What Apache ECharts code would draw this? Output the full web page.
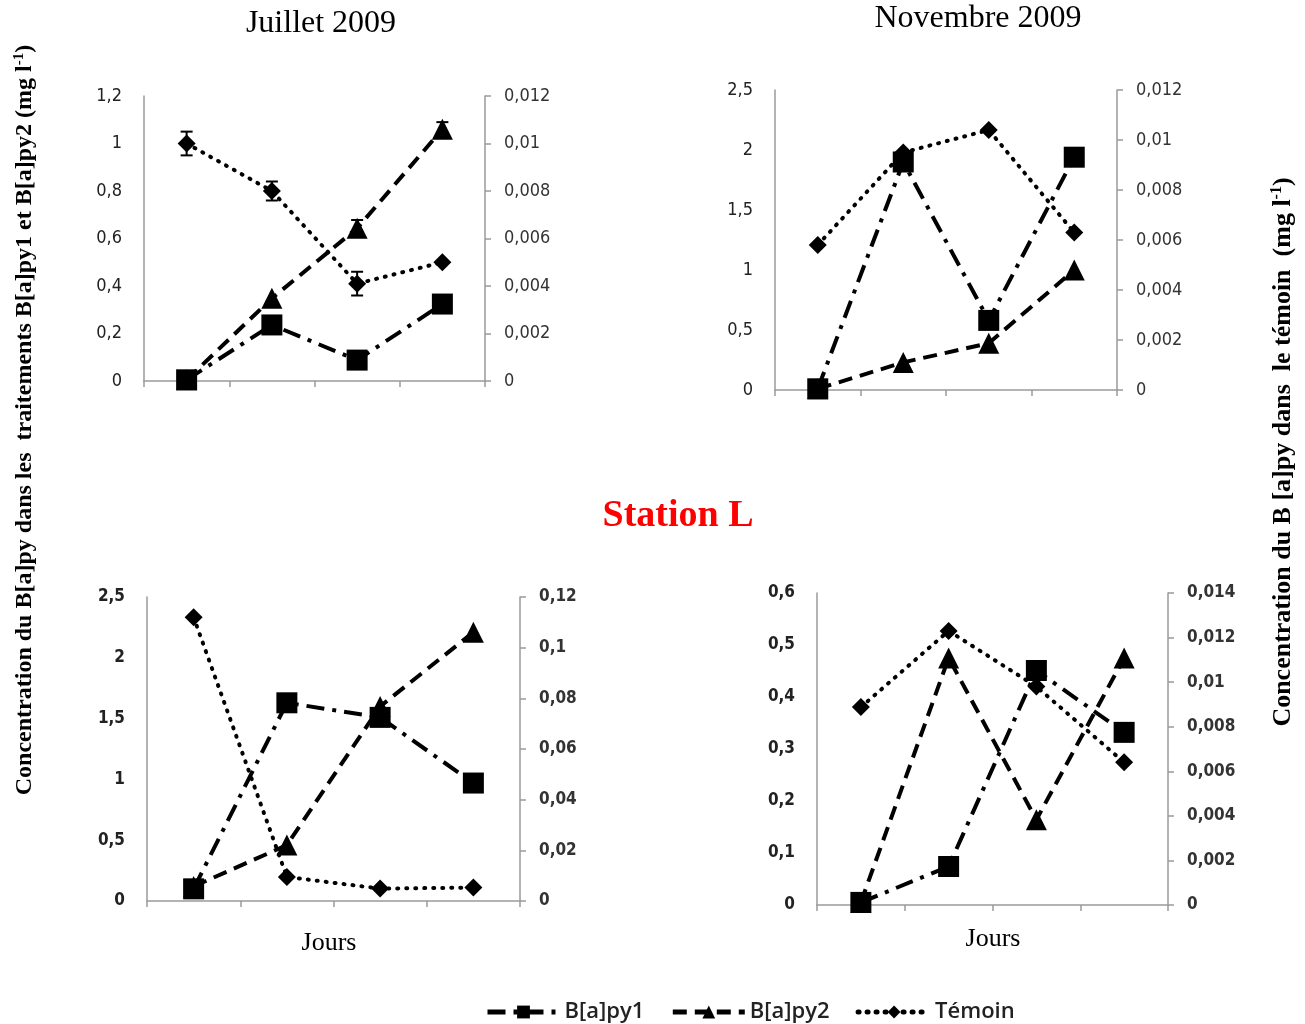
<!DOCTYPE html>
<html>
<head>
<meta charset="utf-8">
<script src="https://cdn.jsdelivr.net/npm/echarts@6/dist/echarts.min.js"></script>
<style>html,body{margin:0;padding:0;background:#fff}#c{width:1305px;height:1024px}</style>
</head>
<body>
<div id="c"></div>
<script>
// ---------- data ----------
var categories = ['1', '2', '3', '4'];

// Juillet 2009 (top left)
var julBapy1 = [0.005, 0.236, 0.088, 0.324];
var julBapy2 = [0.005, 0.348, 0.643, 1.06];
var julTemoin = [0.0100, 0.0080, 0.0041, 0.0050];
var julTemoinErr = [0.0005, 0.0004, 0.0005, 0];
var julBapy2Err = [0, 0, 0.035, 0.03];

// Novembre 2009 (top right)
var novBapy1 = [0.01, 1.90, 0.58, 1.94];
var novBapy2 = [0.01, 0.23, 0.39, 1.00];
var novTemoin = [0.0058, 0.0095, 0.0104, 0.0063];

// Station L, bottom left
var blBapy1 = [0.10, 1.63, 1.51, 0.97];
var blBapy2 = [0.12, 0.46, 1.60, 2.21];
var blTemoin = [0.112, 0.0095, 0.0049, 0.0053];

// Station L, bottom right
var brBapy1 = [0.005, 0.074, 0.451, 0.332];
var brBapy2 = [0.005, 0.475, 0.164, 0.475];
var brTemoin = [0.00888, 0.0123, 0.0098, 0.0064];

// axis scales [max, interval]
var leftScales = [[1.2, 0.2], [2.5, 0.5], [2.5, 0.5], [0.6, 0.1]];
var rightScales = [[0.012, 0.002], [0.012, 0.002], [0.12, 0.02], [0.014, 0.002]];

var seriesNames = ['B[a]py1', 'B[a]py2', 'Témoin'];
var titles = ['Juillet 2009', 'Novembre 2009', 'Station L', 'Jours'];

// ---------- layout ----------
var grids = [
  {left: 144, top: 96, width: 341, height: 285},
  {left: 775, top: 90, width: 342, height: 300},
  {left: 147, top: 597, width: 373, height: 304},
  {left: 817, top: 593, width: 351, height: 312}
];
var panels = [
  [julBapy1, julBapy2, julTemoin],
  [novBapy1, novBapy2, novTemoin],
  [blBapy1, blBapy2, blTemoin],
  [brBapy1, brBapy2, brTemoin]
];

function fmt(v) { return String(Number(v.toFixed(4))).replace('.', ','); }

var labelFont = '"DejaVu Sans Condensed", "Liberation Sans", sans-serif';
var xAxes = [], yAxes = [], series = [];
var styles = [
  {symbol: 'rect', size: 21, dash: [18, 8, 4, 8], cap: 'butt'},
  {symbol: 'triangle', size: 21, dash: [14, 8], cap: 'butt'},
  {symbol: 'diamond', size: 18, dash: [1, 8], cap: 'round'}
];

grids.forEach(function (g, i) {
  var bold = i >= 2 ? 'bold' : 'normal';
  var fs = i >= 2 ? 17 : 18;
  xAxes.push({
    type: 'category', gridIndex: i, data: categories, boundaryGap: true,
    axisLine: {lineStyle: {color: '#9a9a9a', width: 1.5}},
    axisTick: {show: true, length: 6, lineStyle: {color: '#9a9a9a', width: 1.5}},
    axisLabel: {show: false}, splitLine: {show: false}
  });
  yAxes.push({
    type: 'value', gridIndex: i, position: 'left', min: 0,
    max: leftScales[i][0], interval: leftScales[i][1],
    axisLine: {show: true, lineStyle: {color: '#9a9a9a', width: 1.5}},
    axisTick: {show: false},
    splitLine: {show: false},
    axisLabel: {margin: 22, fontFamily: labelFont, fontSize: fs, fontWeight: bold, color: '#222', formatter: fmt}
  });
  yAxes.push({
    type: 'value', gridIndex: i, position: 'right', min: 0,
    max: rightScales[i][0], interval: rightScales[i][1],
    axisLine: {show: true, lineStyle: {color: '#9a9a9a', width: 1.5}},
    axisTick: {show: true, length: 6, lineStyle: {color: '#9a9a9a', width: 1.5}},
    splitLine: {show: false},
    axisLabel: {margin: 19, fontFamily: labelFont, fontSize: fs, fontWeight: bold, color: '#333', formatter: fmt}
  });
  panels[i].forEach(function (arr, k) {
    var s = styles[k];
    series.push({
      name: seriesNames[k], type: 'line', xAxisIndex: i,
      yAxisIndex: k === 2 ? 2 * i + 1 : 2 * i,
      data: arr, symbol: s.symbol, symbolSize: s.size, showSymbol: true,
      z: 3 + k,
      lineStyle: {color: '#000', width: 4, type: s.dash, cap: s.cap},
      itemStyle: {color: '#000'},
      animation: false
    });
  });
});

// error bars (Juillet 2009)
function errData(vals, errs) {
  return vals.map(function (v, j) { return [j, v, errs[j]]; }).filter(function (d) { return d[2] > 0; });
}
function errRender(params, api) {
  var x = api.value(0), y = api.value(1), e = api.value(2);
  var top = api.coord([x, y + e]), bot = api.coord([x, y - e]);
  var w = 6;
  var st = {stroke: '#000', lineWidth: 2};
  return {type: 'group', children: [
    {type: 'line', shape: {x1: top[0], y1: top[1], x2: bot[0], y2: bot[1]}, style: st},
    {type: 'line', shape: {x1: top[0] - w, y1: top[1], x2: top[0] + w, y2: top[1]}, style: st},
    {type: 'line', shape: {x1: bot[0] - w, y1: bot[1], x2: bot[0] + w, y2: bot[1]}, style: st}
  ]};
}
series.push({type: 'custom', xAxisIndex: 0, yAxisIndex: 1, data: errData(julTemoin, julTemoinErr), renderItem: errRender, z: 10, animation: false, silent: true});
series.push({type: 'custom', xAxisIndex: 0, yAxisIndex: 0, data: errData(julBapy2, julBapy2Err), renderItem: errRender, z: 10, animation: false, silent: true});

var serif = '"Liberation Serif", "Times New Roman", serif';
function txt(x, y, text, size, weight, color, rot, rich) {
  var o = {type: 'text', x: x, y: y, rotation: rot || 0, style: {
    text: text, font: weight + ' ' + size + 'px ' + serif, fill: color,
    align: 'center', verticalAlign: 'middle'}};
  if (rich) o.style.rich = rich;
  return o;
}
function supRich(fs) {
  return {
    a: {fontFamily: serif, fontSize: fs, fontWeight: 'bold', fill: '#000'},
    s: {fontFamily: serif, fontSize: Math.round(fs * 0.62), fontWeight: 'bold', fill: '#000', verticalAlign: 'top', padding: [0, 0, Math.round(fs * 0.45), 0]}
  };
}
var leftTitle = '{a|Concentration du B[a]py dans les  traitements B[a]py1 et B[a]py2 (mg l}{s|-1}{a|)}';
var rightTitle = '{a|Concentration du B [a]py dans  le témoin  (mg l}{s|-1}{a|)}';

var option = {
  backgroundColor: '#fff',
  animation: false,
  grid: grids,
  xAxis: xAxes,
  yAxis: yAxes,
  series: series,
  legend: {
    data: seriesNames, left: 480, top: 996, itemWidth: 72, itemHeight: 16, itemGap: 26,
    lineStyle: {width: 5},
    textStyle: {fontFamily: '"Open Sans", sans-serif', fontSize: 22, fontWeight: 600, color: '#222'}
  },
  graphic: [
    txt(321, 24, titles[0], 32, 'normal', '#000'),
    txt(978, 19, titles[1], 32, 'normal', '#000'),
    txt(678, 516, titles[2], 38, 'bold', '#ff0000'),
    txt(329, 943, titles[3], 26, 'normal', '#000'),
    txt(993, 939, titles[3], 26, 'normal', '#000'),
    txt(25, 420, leftTitle, 24, 'bold', '#000', Math.PI / 2, supRich(24)),
    txt(1283, 452, rightTitle, 26, 'bold', '#000', Math.PI / 2, supRich(26))
  ]
};
var chart = echarts.init(document.getElementById('c'), null, {renderer: 'canvas'});
chart.setOption(option);
</script>
</body>
</html>
